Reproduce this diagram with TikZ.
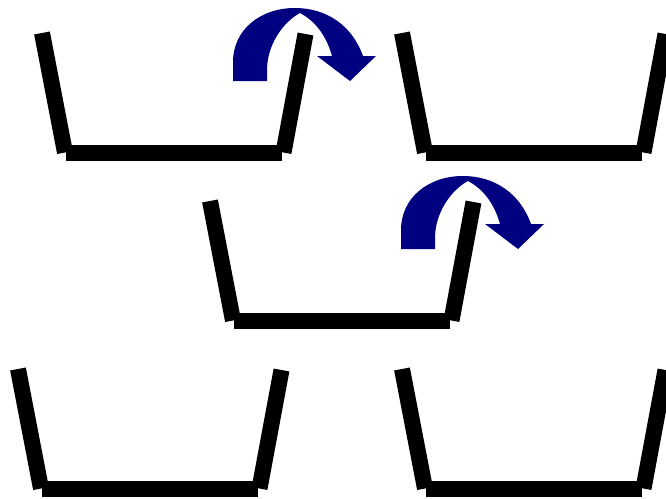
\documentclass[tikz,border=0pt]{standalone}
\definecolor{arrownavy}{RGB}{0,0,128}
\tikzset{
  wall/.style={line width=16pt, line cap=butt, black},
  basebar/.style={line width=16pt, line cap=butt, black},
  curvedarrow/.style={fill=arrownavy, draw=none},
  pics/tub/.style={code={
    \draw[wall] (42,33) -- (65,152.5);
    \draw[basebar] (66,152.5) -- (282,152.5);
    \draw[wall] (305.5,34) -- (283.5,152.5);
  }},
  pics/turnarrow/.style={code={
    \fill[curvedarrow] (233,81) -- (233,62)
      .. controls (233,30) and (260,8) .. (295,8)
      .. controls (326,8) and (352,25) .. (363,56)
      -- (376,56) -- (350,81) -- (317,56) -- (332,56)
      .. controls (327,38) and (317,22) .. (300,13)
      .. controls (283,22) and (267,45) .. (267,70)
      -- (267,81) -- cycle;
  }}
}
\begin{document}
\begin{tikzpicture}[x=1pt,y=-1pt]
  \useasboundingbox (0,0) rectangle (666,498);
  \clip (0,0) rectangle (666,498);
  \fill[white] (0,0) rectangle (666,498);
  % containers
  \pic at (0,0) {tub};
  \pic at (360,0) {tub};
  \pic at (168,168) {tub};
  \pic at (-24,336) {tub};
  \pic at (360,336) {tub};
  % curved arrows
  \pic at (0,0) {turnarrow};
  \pic at (168,168) {turnarrow};
\end{tikzpicture}
\end{document}
